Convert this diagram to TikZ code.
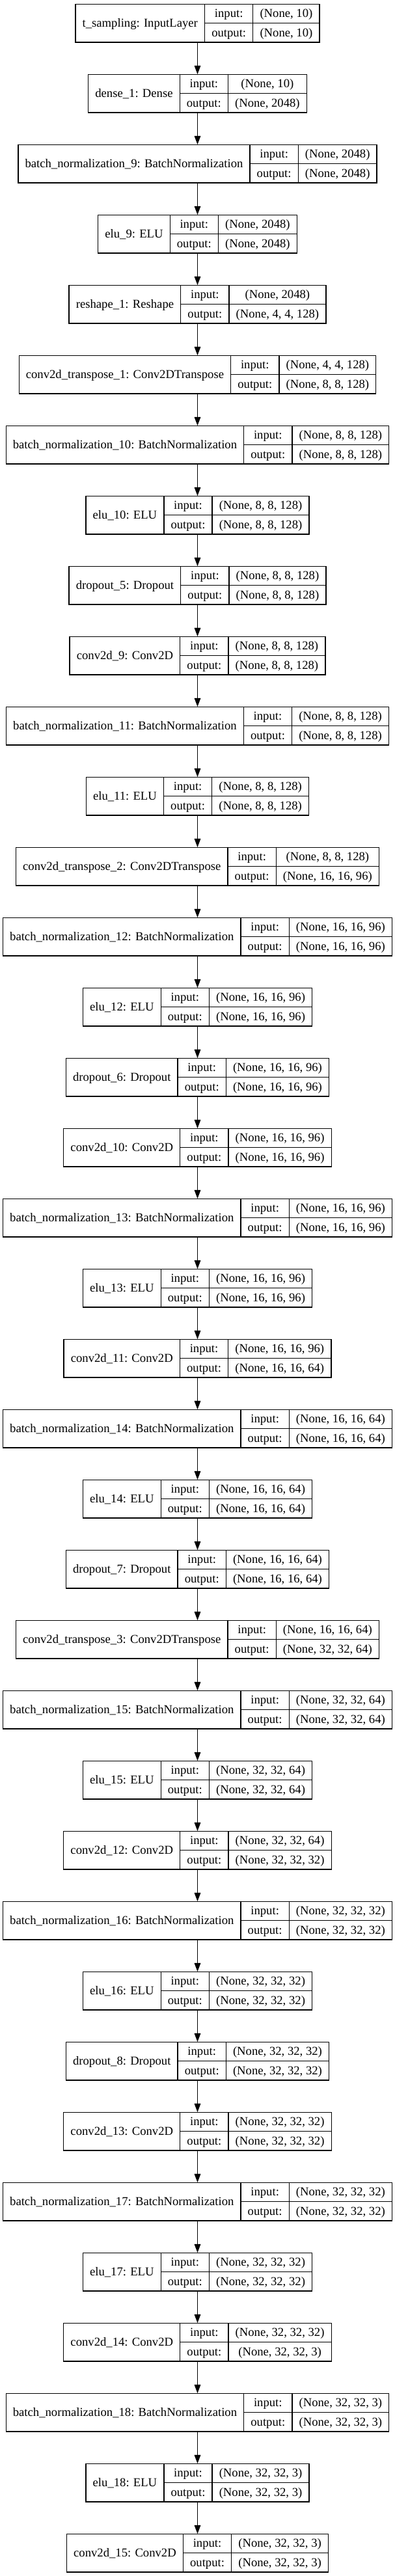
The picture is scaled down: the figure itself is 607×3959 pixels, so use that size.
\documentclass[tikz,border=0pt]{standalone}
\usepackage{fontspec}
\setmainfont{Liberation Serif}
\usetikzlibrary{arrows.meta}
\newcommand\lyrfont{\fontsize{18.667pt}{18.667pt}\selectfont}
\newlength\lwa \newlength\lwb \newlength\lwc \newlength\lwt \newlength\lwx
\tikzset{
  box/.style={draw=black, line width=1.333pt, minimum height=58.667pt, inner sep=0pt, outer sep=0pt, fill=white},
  cell/.style={draw=black, line width=1.333pt},
  txt/.style={font=\lyrfont, inner sep=0pt, anchor=base, text=black},
  arr/.style={-{Triangle[length=13.3pt,width=9.6pt]}, line width=1.333pt, draw=black, fill=black}
}
% measuring pass (outside the picture): #1 node name, #2 index, #3 layer text, #4 input, #5 output
\newcommand\measurelayer[5]{%
  \settowidth\lwa{\lyrfont #3}\addtolength\lwa{21.333pt}%
  \settowidth\lwb{\lyrfont output:}\addtolength\lwb{21.333pt}%
  \settowidth\lwc{\lyrfont #4}\settowidth\lwx{\lyrfont #5}%
  \ifdim\lwx>\lwc \lwc=\lwx\fi
  \addtolength\lwc{21.333pt}%
  \expandafter\xdef\csname lwa@#1\endcsname{\the\lwa}%
  \expandafter\xdef\csname lwb@#1\endcsname{\the\lwb}%
  \expandafter\xdef\csname lwc@#1\endcsname{\the\lwc}%
}
% drawing pass
\newcommand\drawlayer[5]{%
  \lwa=\csname lwa@#1\endcsname\relax
  \lwb=\csname lwb@#1\endcsname\relax
  \lwc=\csname lwc@#1\endcsname\relax
  \lwt=\lwa \advance\lwt by \lwb \advance\lwt by \lwc
  \pgfmathsetmacro\yy{-35.5-108*#2}%
  \node[box, minimum width=\lwt] (#1) at (303.5pt,\yy pt) {};
  \draw[cell] ([xshift=\lwa]#1.north west) -- ([xshift=\lwa]#1.south west);
  \draw[cell] ([xshift=\lwa+\lwb]#1.north west) -- ([xshift=\lwa+\lwb]#1.south west);
  \draw[cell] ([xshift=\lwa]#1.west) -- (#1.east);
  \node[txt] at ([xshift=0.5*\lwa, yshift=-6pt]#1.west) {#3};
  \node[txt] at ([xshift=\lwa+0.5*\lwb, yshift=8.667pt]#1.west) {input:};
  \node[txt] at ([xshift=\lwa+0.5*\lwb, yshift=-20.667pt]#1.west) {output:};
  \node[txt] at ([xshift=\lwa+\lwb+0.5*\lwc, yshift=8.667pt]#1.west) {#4};
  \node[txt] at ([xshift=\lwa+\lwb+0.5*\lwc, yshift=-20.667pt]#1.west) {#5};
}
\newcommand\alllayers{%
\klayer{L0}{0}{t\_sampling: InputLayer}{(None, 10)}{(None, 10)}
\klayer{L1}{1}{dense\_1: Dense}{(None, 10)}{(None, 2048)}
\klayer{L2}{2}{batch\_normalization\_9: BatchNormalization}{(None, 2048)}{(None, 2048)}
\klayer{L3}{3}{elu\_9: ELU}{(None, 2048)}{(None, 2048)}
\klayer{L4}{4}{reshape\_1: Reshape}{(None, 2048)}{(None, 4, 4, 128)}
\klayer{L5}{5}{conv2d\_transpose\_1: Conv2DTranspose}{(None, 4, 4, 128)}{(None, 8, 8, 128)}
\klayer{L6}{6}{batch\_normalization\_10: BatchNormalization}{(None, 8, 8, 128)}{(None, 8, 8, 128)}
\klayer{L7}{7}{elu\_10: ELU}{(None, 8, 8, 128)}{(None, 8, 8, 128)}
\klayer{L8}{8}{dropout\_5: Dropout}{(None, 8, 8, 128)}{(None, 8, 8, 128)}
\klayer{L9}{9}{conv2d\_9: Conv2D}{(None, 8, 8, 128)}{(None, 8, 8, 128)}
\klayer{L10}{10}{batch\_normalization\_11: BatchNormalization}{(None, 8, 8, 128)}{(None, 8, 8, 128)}
\klayer{L11}{11}{elu\_11: ELU}{(None, 8, 8, 128)}{(None, 8, 8, 128)}
\klayer{L12}{12}{conv2d\_transpose\_2: Conv2DTranspose}{(None, 8, 8, 128)}{(None, 16, 16, 96)}
\klayer{L13}{13}{batch\_normalization\_12: BatchNormalization}{(None, 16, 16, 96)}{(None, 16, 16, 96)}
\klayer{L14}{14}{elu\_12: ELU}{(None, 16, 16, 96)}{(None, 16, 16, 96)}
\klayer{L15}{15}{dropout\_6: Dropout}{(None, 16, 16, 96)}{(None, 16, 16, 96)}
\klayer{L16}{16}{conv2d\_10: Conv2D}{(None, 16, 16, 96)}{(None, 16, 16, 96)}
\klayer{L17}{17}{batch\_normalization\_13: BatchNormalization}{(None, 16, 16, 96)}{(None, 16, 16, 96)}
\klayer{L18}{18}{elu\_13: ELU}{(None, 16, 16, 96)}{(None, 16, 16, 96)}
\klayer{L19}{19}{conv2d\_11: Conv2D}{(None, 16, 16, 96)}{(None, 16, 16, 64)}
\klayer{L20}{20}{batch\_normalization\_14: BatchNormalization}{(None, 16, 16, 64)}{(None, 16, 16, 64)}
\klayer{L21}{21}{elu\_14: ELU}{(None, 16, 16, 64)}{(None, 16, 16, 64)}
\klayer{L22}{22}{dropout\_7: Dropout}{(None, 16, 16, 64)}{(None, 16, 16, 64)}
\klayer{L23}{23}{conv2d\_transpose\_3: Conv2DTranspose}{(None, 16, 16, 64)}{(None, 32, 32, 64)}
\klayer{L24}{24}{batch\_normalization\_15: BatchNormalization}{(None, 32, 32, 64)}{(None, 32, 32, 64)}
\klayer{L25}{25}{elu\_15: ELU}{(None, 32, 32, 64)}{(None, 32, 32, 64)}
\klayer{L26}{26}{conv2d\_12: Conv2D}{(None, 32, 32, 64)}{(None, 32, 32, 32)}
\klayer{L27}{27}{batch\_normalization\_16: BatchNormalization}{(None, 32, 32, 32)}{(None, 32, 32, 32)}
\klayer{L28}{28}{elu\_16: ELU}{(None, 32, 32, 32)}{(None, 32, 32, 32)}
\klayer{L29}{29}{dropout\_8: Dropout}{(None, 32, 32, 32)}{(None, 32, 32, 32)}
\klayer{L30}{30}{conv2d\_13: Conv2D}{(None, 32, 32, 32)}{(None, 32, 32, 32)}
\klayer{L31}{31}{batch\_normalization\_17: BatchNormalization}{(None, 32, 32, 32)}{(None, 32, 32, 32)}
\klayer{L32}{32}{elu\_17: ELU}{(None, 32, 32, 32)}{(None, 32, 32, 32)}
\klayer{L33}{33}{conv2d\_14: Conv2D}{(None, 32, 32, 32)}{(None, 32, 32, 3)}
\klayer{L34}{34}{batch\_normalization\_18: BatchNormalization}{(None, 32, 32, 3)}{(None, 32, 32, 3)}
\klayer{L35}{35}{elu\_18: ELU}{(None, 32, 32, 3)}{(None, 32, 32, 3)}
\klayer{L36}{36}{conv2d\_15: Conv2D}{(None, 32, 32, 3)}{(None, 32, 32, 3)}
}
\begin{document}
\let\klayer\measurelayer
\alllayers
\begin{tikzpicture}
\let\klayer\drawlayer
\useasboundingbox (0,0) rectangle (607pt,-3959pt);
\fill[white] (0,0) rectangle (607pt,-3959pt);
\alllayers
\foreach \i [evaluate=\i as \j using int(\i+1)] in {0,...,35}
  \draw[arr] (L\i.south) -- (L\j.north);
\end{tikzpicture}
\end{document}
